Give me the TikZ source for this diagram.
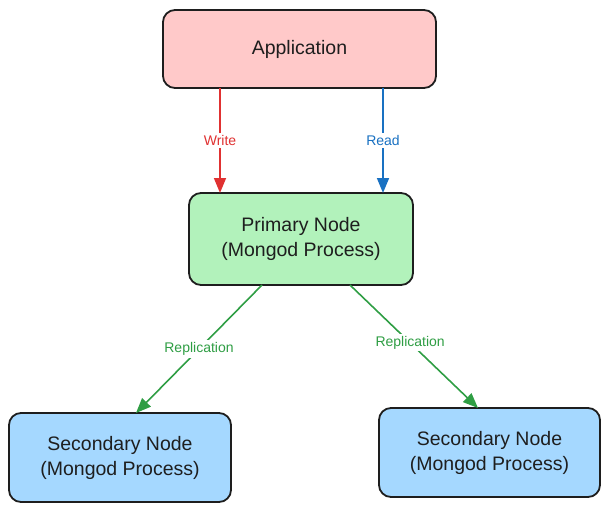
\documentclass[tikz,border=0pt]{standalone}
\usepackage{fontspec}
\setmainfont{Liberation Sans}
\usetikzlibrary{arrows.meta}
\definecolor{appfill}{HTML}{FFC9C9}
\definecolor{prifill}{HTML}{B2F2BB}
\definecolor{secfill}{HTML}{A5D8FF}
\definecolor{wred}{HTML}{E03131}
\definecolor{rblue}{HTML}{1971C2}
\definecolor{repgreen}{HTML}{2F9E44}
\definecolor{ink}{HTML}{1E1E1E}
\tikzset{
  box/.style={draw=ink, line width=1.8pt, rounded corners=12pt, align=center,
    font=\fontsize{19.5}{25}\selectfont, text=ink, inner sep=0pt},
  conn/.style={line width=1.6pt, -{Triangle[length=15pt,width=12pt]}},
  lbl/.style={fill=white, inner sep=2pt, font=\fontsize{14}{16}\selectfont}
}
\begin{document}
\begin{tikzpicture}[x=1pt,y=-1pt]
\useasboundingbox (0,0) rectangle (610,512);
\node[box, fill=appfill, minimum width=273pt, minimum height=78pt] (app) at (299.5,49) {Application};
\node[box, fill=prifill, minimum width=224pt, minimum height=92pt] (pri) at (301,239) {Primary Node\\(Mongod Process)};
\node[box, fill=secfill, minimum width=222pt, minimum height=89pt] (secl) at (120,457.5) {Secondary Node\\(Mongod Process)};
\node[box, fill=secfill, minimum width=221pt, minimum height=89pt] (secr) at (489.5,452.5) {Secondary Node\\(Mongod Process)};
\coordinate (w1) at (220,88);
\coordinate (w2) at (220,193);
\coordinate (r1) at (383,88);
\coordinate (r2) at (383,193);
\coordinate (l1) at (262,285);
\coordinate (l2) at (136,413);
\coordinate (q1) at (350,285);
\coordinate (q2) at (478,408);
\draw[conn, wred] (w1) -- node[lbl, text=wred] {Write} (w2);
\draw[conn, rblue] (r1) -- node[lbl, text=rblue] {Read} (r2);
\draw[conn, repgreen] (l1) -- node[lbl, text=repgreen, pos=0.5] {Replication} (l2);
\draw[conn, repgreen] (q1) -- node[lbl, text=repgreen, pos=0.47] {Replication} (q2);
\end{tikzpicture}
\end{document}
